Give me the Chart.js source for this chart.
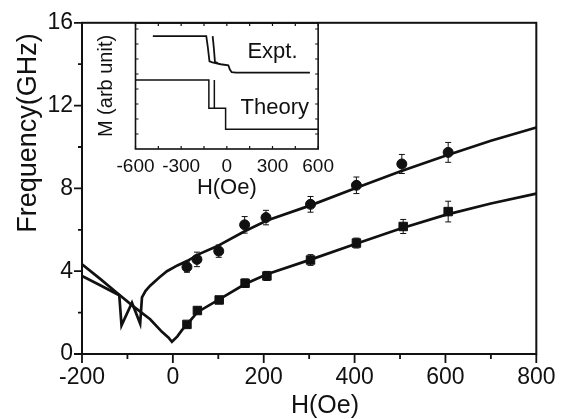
<!DOCTYPE html>
<html>
<head>
<meta charset="utf-8">
<script src="https://cdn.jsdelivr.net/npm/chart.js@4/dist/chart.umd.min.js"></script>
<style>
    html, body { margin: 0; padding: 0; background: #fff; }
    #wrap { position: relative; width: 565px; height: 419px; }
    #mainChart { position: absolute; left: 0; top: 0; }
    #insetChart { position: absolute; left: 90px; top: 15px; }
</style>
</head>
<body>
<div id="wrap">
    <canvas id="mainChart" width="565" height="419"></canvas>
    <canvas id="insetChart" width="250" height="190"></canvas>
</div>
<script>
// ---- main panel: resonance frequency vs field ----
const xTicks = [-200, 0, 200, 400, 600, 800];
const yTicks = [0, 4, 8, 12, 16];

// calculated branch through the minimum at H = 0 (lower mode)
const lowerCurveH = [-200, -160, -120, -87, -50, -24, -10, -2, 10, 20, 32, 54, 102, 159, 207, 303, 400, 500, 600, 700, 800];
const lowerCurveF = [4.33, 3.63, 2.9, 2.3, 1.68, 1.07, 0.8, 0.59, 0.85, 1.15, 1.45, 2.02, 2.64, 3.38, 3.85, 4.56, 5.3, 6.05, 6.72, 7.27, 7.75];

// calculated branch with the two switching dips (upper mode)
const upperCurveH = [-200, -160, -118, -113, -90, -72, -68, -60, -50, -30, -13, 10, 32, 60, 97, 157, 207, 303, 400, 500, 600, 700, 800];
const upperCurveF = [3.77, 3.32, 2.84, 1.38, 2.48, 1.47, 2.74, 3.05, 3.3, 3.7, 4.0, 4.28, 4.5, 4.85, 5.2, 5.92, 6.45, 7.18, 8.0, 8.82, 9.58, 10.3, 10.94];

// measured points (circles = upper mode, squares = lower mode)
const circleH = [31, 53, 101, 158, 205, 303, 404, 504, 606];
const circleF = [4.2, 4.57, 4.97, 6.24, 6.59, 7.23, 8.15, 9.18, 9.74];
const circleErr = [0.25, 0.35, 0.3, 0.4, 0.35, 0.38, 0.4, 0.46, 0.48];

const squareH = [31, 54, 102, 159, 207, 303, 404, 507, 606];
const squareF = [1.43, 2.1, 2.61, 3.42, 3.77, 4.54, 5.36, 6.16, 6.88];
const squareErr = [0.12, 0.15, 0.15, 0.2, 0.22, 0.26, 0.24, 0.34, 0.5];

// ---- inset: hysteresis loops ----
const insetXTicks = [-600, -300, 0, 300, 600];
const insetYTicks = [1, 2, 3, 4, 5, 6, 7, 8];

const exptLoopAH = [-486, -135, -125, -114, -95, -40, 10, 20, 32, 60, 546];
const exptLoopAM = [7.53, 7.53, 6.8, 5.85, 5.78, 5.65, 5.58, 5.3, 5.12, 5.09, 5.09];
const exptLoopBH = [-93, -85, -78, -60];
const exptLoopBM = [7.53, 6.7, 5.8, 5.74];

const theoryLoopAH = [-600, -118, -118, -8, -8, 600];
const theoryLoopAM = [4.6, 4.6, 2.71, 2.71, 1.31, 1.31];
const theoryLoopBH = [-82, -82];
const theoryLoopBM = [4.6, 2.71];

const FONT = "'Liberation Sans', Arial, Helvetica, sans-serif";
const INK = '#111';

const toPoints = (xs, ys) => xs.map((x, i) => ({ x: x, y: ys[i] }));
const midpoints = arr => arr.slice(0, -1).map((v, i) => (v + arr[i + 1]) / 2);

// plot frame around the chart area
const framePlugin = {
    id: 'frame',
    afterDraw(chart, args, opts) {
        const a = chart.chartArea, ctx = chart.ctx;
        ctx.save();
        ctx.strokeStyle = INK;
        ctx.lineWidth = opts.width || 2;
        ctx.strokeRect(a.left, a.top, a.right - a.left, a.bottom - a.top);
        ctx.restore();
    }
};

// tick marks drawn through the scales; len > 0 points into the plot
const tickPlugin = {
    id: 'tickMarks',
    afterDraw(chart, args, opts) {
        const ctx = chart.ctx, a = chart.chartArea;
        const xs = chart.scales.x, ys = chart.scales.y;
        ctx.save();
        ctx.strokeStyle = INK;
        ctx.lineWidth = opts.width || 1.5;
        ctx.beginPath();
        (opts.x || []).forEach(t => {
            const px = xs.getPixelForValue(t.v);
            if (opts.bottom) { ctx.moveTo(px, a.bottom); ctx.lineTo(px, a.bottom - t.len); }
            if (opts.top) { ctx.moveTo(px, a.top); ctx.lineTo(px, a.top + t.len); }
        });
        (opts.y || []).forEach(t => {
            const py = ys.getPixelForValue(t.v);
            if (opts.left) { ctx.moveTo(a.left, py); ctx.lineTo(a.left + t.len, py); }
            if (opts.right) { ctx.moveTo(a.right, py); ctx.lineTo(a.right - t.len, py); }
        });
        ctx.stroke();
        ctx.restore();
    }
};

// vertical error bars for datasets carrying an "errors" array
const errorBarPlugin = {
    id: 'errorBars',
    afterDatasetsDraw(chart) {
        const ctx = chart.ctx, xs = chart.scales.x, ys = chart.scales.y;
        ctx.save();
        ctx.strokeStyle = INK;
        ctx.lineWidth = 1;
        chart.data.datasets.forEach(ds => {
            if (!ds.errors) return;
            ds.data.forEach((p, i) => {
                const px = xs.getPixelForValue(p.x);
                const top = ys.getPixelForValue(p.y + ds.errors[i]);
                const bot = ys.getPixelForValue(p.y - ds.errors[i]);
                ctx.beginPath();
                ctx.moveTo(px, top); ctx.lineTo(px, bot);
                ctx.moveTo(px - 3, top); ctx.lineTo(px + 3, top);
                ctx.moveTo(px - 3, bot); ctx.lineTo(px + 3, bot);
                ctx.stroke();
            });
        });
        ctx.restore();
    }
};

// axis titles of the main panel (the y title sits above centre)
const mainTitlesPlugin = {
    id: 'mainTitles',
    afterDraw(chart) {
        const ctx = chart.ctx;
        ctx.save();
        ctx.fillStyle = INK;
        ctx.textAlign = 'center';
        ctx.textBaseline = 'middle';
        ctx.font = '25px ' + FONT;
        ctx.fillText('H(Oe)', 325, 406);
        ctx.translate(29, 133);
        ctx.rotate(-Math.PI / 2);
        ctx.font = '27px ' + FONT;
        ctx.fillText('Frequency(GHz)', 0, 0);
        ctx.restore();
    }
};

// labels written inside the inset, next to each loop
const insetLabelsPlugin = {
    id: 'insetLabels',
    afterDraw(chart) {
        const ctx = chart.ctx, xs = chart.scales.x;
        ctx.save();
        ctx.fillStyle = INK;
        ctx.font = '22px ' + FONT;
        ctx.textAlign = 'center';
        ctx.textBaseline = 'middle';
        ctx.fillText('Expt.', xs.getPixelForValue(300), 37);
        ctx.fillText('Theory', xs.getPixelForValue(315), 93);
        ctx.restore();
    }
};

const FrequencyFigure = {
    init: function() {
        Chart.defaults.font.family = FONT;
        Chart.defaults.color = INK;
        this.setupMainChart();
        this.setupInsetChart();
    },

    setupMainChart: function() {
        const lineStyle = { showLine: true, borderColor: INK, borderWidth: 2.7, pointRadius: 0, tension: 0, fill: false };

        new Chart(document.getElementById('mainChart'), {
            type: 'scatter',
            data: {
                datasets: [
                    Object.assign({ data: toPoints(lowerCurveH, lowerCurveF) }, lineStyle),
                    Object.assign({ data: toPoints(upperCurveH, upperCurveF) }, lineStyle),
                    {
                        data: toPoints(circleH, circleF),
                        errors: circleErr,
                        pointStyle: 'circle',
                        pointRadius: 5,
                        pointBackgroundColor: INK,
                        pointBorderColor: INK,
                        pointBorderWidth: 1
                    },
                    {
                        data: toPoints(squareH, squareF),
                        errors: squareErr,
                        pointStyle: 'rect',
                        pointRadius: 6,
                        pointBackgroundColor: INK,
                        pointBorderColor: INK,
                        pointBorderWidth: 1
                    }
                ]
            },
            options: {
                responsive: false,
                animation: false,
                devicePixelRatio: 1,
                layout: { padding: { left: 0, top: 18.5, right: 27.5, bottom: 0 } },
                plugins: {
                    legend: { display: false },
                    tooltip: { enabled: false },
                    frame: { width: 2 },
                    tickMarks: {
                        bottom: true, left: true,
                        width: 1.8,
                        x: xTicks.map(v => ({ v: v, len: -9 })).concat(midpoints(xTicks).map(v => ({ v: v, len: -5 }))),
                        y: yTicks.map(v => ({ v: v, len: -8 })).concat(midpoints(yTicks).map(v => ({ v: v, len: -4 })))
                    }
                },
                scales: {
                    x: {
                        type: 'linear',
                        min: -200, max: 800,
                        afterBuildTicks: s => { s.ticks = xTicks.map(v => ({ value: v })); },
                        afterFit: s => { s.height = 65; },
                        grid: { display: false, drawTicks: false },
                        border: { display: false },
                        ticks: { font: { size: 23 }, padding: 9.5, maxRotation: 0 }
                    },
                    y: {
                        type: 'linear',
                        min: 0, max: 16,
                        afterBuildTicks: s => { s.ticks = yTicks.map(v => ({ value: v })); },
                        afterFit: s => { s.width = 82; },
                        grid: { display: false, drawTicks: false },
                        border: { display: false },
                        ticks: { font: { size: 23 }, padding: 9 }
                    }
                }
            },
            plugins: [framePlugin, tickPlugin, errorBarPlugin, mainTitlesPlugin]
        });
    },

    setupInsetChart: function() {
        const loopStyle = { showLine: true, borderColor: INK, borderWidth: 1.8, pointRadius: 0, tension: 0, fill: false };
        const insetX = insetXTicks.concat(midpoints(insetXTicks));

        new Chart(document.getElementById('insetChart'), {
            type: 'scatter',
            data: {
                datasets: [
                    Object.assign({ data: toPoints(exptLoopAH, exptLoopAM) }, loopStyle),
                    Object.assign({ data: toPoints(exptLoopBH, exptLoopBM) }, loopStyle),
                    Object.assign({ data: toPoints(theoryLoopAH, theoryLoopAM) }, loopStyle, { borderWidth: 1.5 }),
                    Object.assign({ data: toPoints(theoryLoopBH, theoryLoopBM) }, loopStyle, { borderWidth: 1.5 })
                ]
            },
            options: {
                responsive: false,
                animation: false,
                devicePixelRatio: 1,
                layout: { padding: { left: 0, top: 8, right: 16, bottom: 0 } },
                plugins: {
                    legend: { display: false },
                    tooltip: { enabled: false },
                    frame: { width: 1.6 },
                    tickMarks: {
                        bottom: true, top: true, left: true, right: true,
                        width: 1.2,
                        x: insetX.map(v => ({ v: v, len: 3 })),
                        y: insetYTicks.map(v => ({ v: v, len: 3 }))
                    }
                },
                scales: {
                    x: {
                        type: 'linear',
                        min: -600, max: 600,
                        afterBuildTicks: s => { s.ticks = insetXTicks.map(v => ({ value: v })); },
                        afterFit: s => { s.height = 56; },
                        grid: { display: false, drawTicks: false },
                        border: { display: false },
                        ticks: { font: { size: 19 }, padding: 6, maxRotation: 0 },
                        title: { display: true, text: 'H(Oe)', font: { size: 22 }, padding: { top: 0, bottom: 3.5 } }
                    },
                    y: {
                        type: 'linear',
                        min: 0, max: 8.4,
                        afterFit: s => { s.width = 45.5; },
                        grid: { display: false, drawTicks: false },
                        border: { display: false },
                        ticks: { display: false },
                        title: { display: true, text: 'M (arb unit)', font: { size: 20 }, padding: { top: 4, bottom: 0 } }
                    }
                }
            },
            plugins: [framePlugin, tickPlugin, insetLabelsPlugin]
        });
    }
};

FrequencyFigure.init();
</script>
</body>
</html>
